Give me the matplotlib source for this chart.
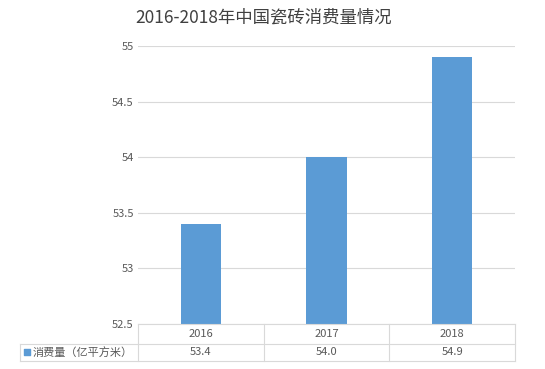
import numpy as np
import matplotlib
matplotlib.use("Agg")
import matplotlib.pyplot as plt
import matplotlib.transforms as mtransforms

plt.rcParams['font.family'] = ['Noto Sans CJK SC', 'DejaVu Sans']

# =====================================================
# DADOS
# =====================================================

anos = ["2016", "2017", "2018"]
consumo = [53.4, 54.0, 54.9]
rotulos_tabela = ["53.4", "54.0", "54.9"]
serie = "消费量（亿平方米）"
titulo = "2016-2018年中国瓷砖消费量情况"
yticks = [52.5, 53, 53.5, 54, 54.5, 55]

azul = "#5B9BD5"
cinza_txt = "#595959"
cinza_linha = "#D9D9D9"

fig = plt.figure(figsize=(5.45, 3.69), dpi=100)
ax = fig.add_axes([0.2532, 0.122, 0.692, 0.7533])

x = np.arange(len(anos))
ax.bar(x, consumo, width=0.32, color=azul, zorder=3, bottom=0)

ax.set_xlim(-0.5, len(anos) - 0.5)
ax.set_ylim(52.5, 55)
ax.set_yticks(yticks)
ax.set_yticklabels([f"{v:g}" for v in yticks])
ax.set_xticks([])
ax.tick_params(axis="y", length=0, pad=3, labelsize=8, labelcolor=cinza_txt)
for s in ax.spines.values():
    s.set_visible(False)
ax.grid(axis="y", color=cinza_linha, linewidth=0.8, zorder=0)

# titulo
fig.text(0.484, 0.953, titulo, ha="center", va="center", fontsize=12.5,
         color="#404040")

# =====================================================
# TABELA DE DADOS
# =====================================================

trans = mtransforms.blended_transform_factory(ax.transData, ax.transAxes)
h1 = -0.072
h2 = -0.133
esq = -0.313

kw = dict(color=cinza_linha, linewidth=0.8, clip_on=False, zorder=4)
ax.plot([-0.5, 2.5], [0, 0], transform=trans, **kw)
ax.plot([0, 1], [h1, h1], transform=ax.transAxes, **kw)
ax.plot([esq, 0], [h1, h1], transform=ax.transAxes, **kw)
ax.plot([esq, 1], [h2, h2], transform=ax.transAxes, **kw)
ax.plot([esq, esq], [h1, h2], transform=ax.transAxes, **kw)
for xv in [-0.5, 0.5, 1.5, 2.5]:
    ax.plot([xv, xv], [0, h2], transform=trans, **kw)

for i in range(len(anos)):
    ax.text(x[i], h1 / 2, anos[i], transform=trans, ha="center",
            va="center", fontsize=8, color=cinza_txt)
    ax.text(x[i], (h1 + h2) / 2, rotulos_tabela[i], transform=trans,
            ha="center", va="center", fontsize=8, color=cinza_txt)

ax.scatter([esq + 0.018], [(h1 + h2) / 2], marker="s", s=14, color=azul,
           transform=ax.transAxes, clip_on=False)
ax.text(esq + 0.033, (h1 + h2) / 2, serie, transform=ax.transAxes,
        ha="left", va="center", fontsize=8, color=cinza_txt)

plt.savefig("out.png", dpi=100)
